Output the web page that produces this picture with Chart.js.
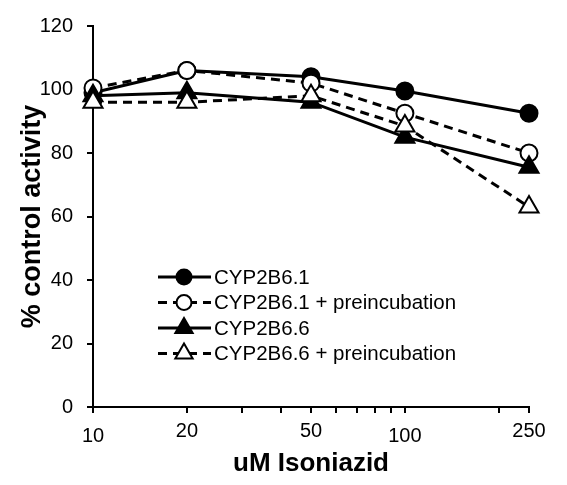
<!DOCTYPE html>
<html>
<head>
<meta charset="utf-8">
<script src="https://cdn.jsdelivr.net/npm/chart.js@4"></script>
<style>
    html, body { margin: 0; padding: 0; background: #fff; }
    #wrap { width: 567px; height: 485px; }
</style>
</head>
<body>
<div id="wrap"><canvas id="chart" width="567" height="485"></canvas></div>
<script>
// Data
const concentrations = [10, 20, 50, 100, 250];
const cyp1 = [99, 106, 104, 99.5, 92.5];
const cyp1Pre = [100.5, 106, 102, 92.5, 80];
const cyp6 = [98, 99, 96, 85, 75.5];
const cyp6Pre = [96, 96, 98, 88.5, 63];

const seriesLabels = ['CYP2B6.1', 'CYP2B6.1 + preincubation', 'CYP2B6.6', 'CYP2B6.6 + preincubation'];
const xTicks = [10, 20, 30, 40, 50, 60, 70, 80, 90, 100, 200, 250];
const xTickLabels = [10, 20, 50, 100, 250];
const yTicks = [0, 20, 40, 60, 80, 100, 120];

const FONT = 'Arial, "Liberation Sans", sans-serif';
// the original staggers the x labels a little (px below the default line)
const xLabelShift = { 10: 5, 20: 0, 50: 0, 100: 5, 250: 0 };

function toPoints(values) {
    return values.map((v, i) => ({ x: concentrations[i], y: v }));
}

function makeDataset(label, values, filled, dashed, style, order) {
    return {
        label: label,
        data: toPoints(values),
        borderColor: '#000',
        borderWidth: 3,
        borderDash: dashed ? [9, 6] : [],
        pointStyle: style,
        pointRadius: style === 'triangle' ? 11 : 8.5,
        pointBorderWidth: 2,
        pointBackgroundColor: filled ? '#000' : '#fff',
        pointBorderColor: '#000',
        tension: 0,
        fill: false,
        clip: false,
        order: order
    };
}

// Legend with line sample + marker, like the original
const lineLegend = {
    id: 'lineLegend',
    afterDraw(chart) {
        const ctx = chart.ctx;
        const top = 277;
        const row = 25.5;
        chart.data.datasets.forEach((ds, i) => {
            const y = top + i * row;
            ctx.save();
            ctx.strokeStyle = '#000';
            ctx.lineWidth = ds.borderWidth;
            ctx.setLineDash(ds.borderDash);
            ctx.beginPath();
            ctx.moveTo(158, y);
            ctx.lineTo(211, y);
            ctx.stroke();
            ctx.setLineDash([]);
            ctx.fillStyle = ds.pointBackgroundColor;
            ctx.strokeStyle = '#000';
            ctx.lineWidth = ds.pointBorderWidth;
            Chart.helpers.drawPoint(ctx, {
                pointStyle: ds.pointStyle,
                radius: ds.pointRadius - 1,
                borderWidth: ds.pointBorderWidth,
                rotation: 0
            }, 184, y);
            ctx.fillStyle = '#000';
            ctx.font = '20.5px ' + FONT;
            ctx.textBaseline = 'middle';
            ctx.textAlign = 'left';
            ctx.fillText(ds.label, 214, y + 1);
            ctx.restore();
        });
    }
};

// x tick labels drawn by hand so they can be staggered like the original
const xLabels = {
    id: 'xLabels',
    afterDraw(chart) {
        const ctx = chart.ctx;
        const xs = chart.scales.x;
        ctx.save();
        ctx.fillStyle = '#000';
        ctx.font = '20px ' + FONT;
        ctx.textAlign = 'center';
        ctx.textBaseline = 'middle';
        xTickLabels.forEach(v => {
            ctx.fillText(String(v), xs.getPixelForValue(v), 431 + xLabelShift[v]);
        });
        ctx.restore();
    }
};

new Chart(document.getElementById('chart'), {
    type: 'line',
    data: {
        datasets: [
            makeDataset(seriesLabels[0], cyp1, true, false, 'circle', 4),
            makeDataset(seriesLabels[1], cyp1Pre, false, true, 'circle', 3),
            makeDataset(seriesLabels[2], cyp6, true, false, 'triangle', 2),
            makeDataset(seriesLabels[3], cyp6Pre, false, true, 'triangle', 1)
        ]
    },
    options: {
        responsive: false,
        animation: false,
        layout: { padding: { top: 17, right: 38, left: 0, bottom: 0 } },
        plugins: {
            legend: { display: false },
            tooltip: { enabled: false }
        },
        scales: {
            x: {
                type: 'logarithmic',
                min: 10,
                max: 250,
                afterBuildTicks: scale => {
                    scale.ticks = xTicks.map(v => ({ value: v }));
                },
                afterFit: scale => { scale.height = 78; },
                border: { color: '#000', width: 2 },
                grid: { drawOnChartArea: false, drawTicks: true, tickLength: 6, color: '#000', lineWidth: 2 },
                ticks: {
                    autoSkip: false,
                    maxRotation: 0,
                    padding: 9,
                    color: '#000',
                    font: { family: FONT, size: 20 },
                    callback: () => ''
                },
                title: {
                    display: true,
                    text: 'uM Isoniazid',
                    color: '#000',
                    font: { family: FONT, size: 26, weight: 'bold' },
                    padding: { top: 0, bottom: 6 }
                }
            },
            y: {
                min: 0,
                max: 120,
                afterBuildTicks: scale => {
                    scale.ticks = yTicks.map(v => ({ value: v }));
                },
                afterFit: scale => { scale.width = 93; },
                border: { color: '#000', width: 2 },
                grid: { drawOnChartArea: false, drawTicks: true, tickLength: 6, color: '#000', lineWidth: 2 },
                ticks: {
                    padding: 14,
                    color: '#000',
                    font: { family: FONT, size: 20 }
                },
                title: {
                    display: true,
                    text: '% control activity',
                    color: '#000',
                    font: { family: FONT, size: 27, weight: 'bold' },
                    padding: { top: 16, bottom: 0 }
                }
            }
        }
    },
    plugins: [lineLegend, xLabels]
});
</script>
</body>
</html>
